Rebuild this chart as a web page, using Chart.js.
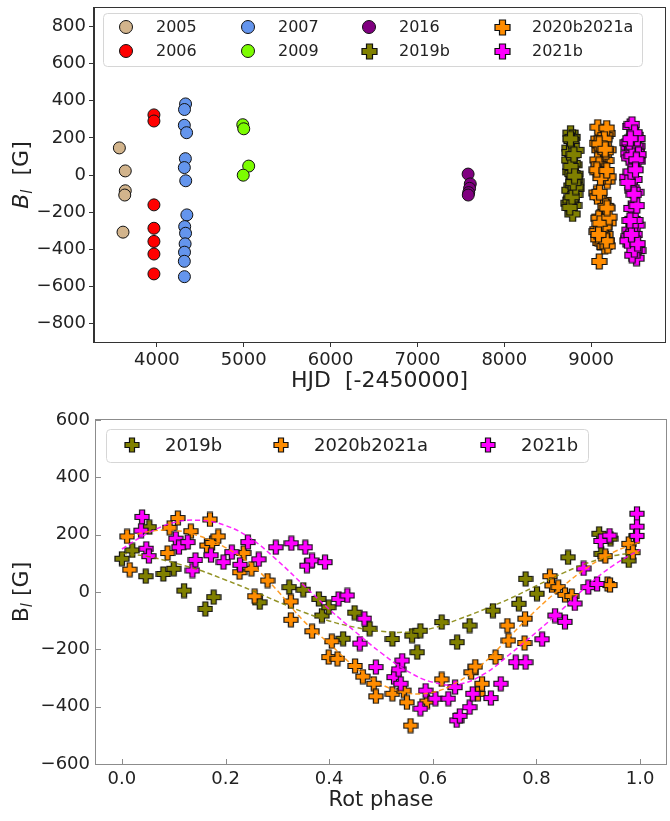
<!DOCTYPE html>
<html lang="en">
<head>
  <meta charset="UTF-8">
  <title>Longitudinal field vs HJD and rotation phase</title>
  <script src="https://cdn.jsdelivr.net/npm/chart.js@4.4.1/dist/chart.umd.min.js"></script>
  <style>
    html, body { margin: 0; padding: 0; background: #fff; overflow: hidden; width: 670px; height: 821px; }
    #topChart { position: absolute; left: 0; top: 0; }
    #botChart { position: absolute; left: 0; top: 400px; }
  </style>
</head>
<body>
  <canvas id="topChart" width="673" height="400"></canvas>
  <canvas id="botChart" width="674" height="421"></canvas>
  <script>
    // ---- data: top panel (HJD - 2450000, B_l in G) ----
    const hjd2005 = [3568, 3636, 3636, 3630, 3610];
    const b2005 = [146, 22, -85, -108, -308];
    const hjd2006 = [3966, 3966, 3966, 3966, 3966, 3966, 3966];
    const b2006 = [324, 291, -161, -287, -358, -426, -533];
    const hjd2007 = [4330, 4318, 4316, 4342, 4328, 4316, 4332, 4345, 4320, 4330, 4325, 4318, 4316, 4317];
    const b2007 = [383, 353, 268, 228, 88, 40, -31, -215, -278, -314, -371, -416, -465, -548];
    const hjd2009 = [4989, 5000, 5057, 4994];
    const b2009 = [271, 249, 48, -1];
    const hjd2016 = [7583, 7608, 7600, 7590, 7585];
    const b2016 = [5, -48, -72, -95, -108];

    // 2019b
    const hjd2019b = [8781, 8752, 8806, 8763, 8790, 8745, 8818, 8771, 8799, 8826,
      8757, 8784, 8812, 8748, 8795, 8768, 8830, 8776, 8803, 8741,
      8760, 8787, 8815, 8754, 8779, 8822, 8793, 8765, 8809, 8750,
      8786, 8828, 8773, 8801, 8762];
    const phase2019b = [0.000, 0.020, 0.046, 0.053, 0.080, 0.100, 0.120, 0.161, 0.177, 0.266,
      0.323, 0.350, 0.380, 0.386, 0.399, 0.427, 0.449, 0.478, 0.522, 0.560,
      0.576, 0.570, 0.617, 0.647, 0.671, 0.716, 0.766, 0.779, 0.801, 0.861,
      0.921, 0.925, 0.943, 0.978, 0.992];
    const b2019b = [116, 145, 55, 226, 63, 81, 5, -59, -18, -36,
      17, 8, -24, -82, -53, -163, -72, -128, -164, -152,
      -135, -210, -105, -175, -117, -65, -41, 46, -6, 121,
      203, 133, 186, 110, 195];

    // 2020b2021a
    const hjd2020 = [9082, 9171, 9095, 9188, 9076, 9160, 9103, 9179, 9068, 9152,
      9091, 9197, 9074, 9168, 9110, 9185, 9063, 9143, 9099, 9176,
      9087, 9201, 9070, 9163, 9105, 9181, 9079, 9157, 9093, 9192,
      9066, 9149, 9101, 9174, 9084, 9206, 9072, 9166, 9097, 9183,
      9089, 9158, 9077, 9195, 9108, 9170, 9065, 9180, 9092, 9162];
    const phase2020 = [0.010, 0.015, 0.088, 0.092, 0.108, 0.133, 0.164, 0.170, 0.174, 0.186,
      0.227, 0.235, 0.250, 0.256, 0.281, 0.326, 0.326, 0.367, 0.399, 0.405,
      0.416, 0.450, 0.465, 0.486, 0.490, 0.522, 0.544, 0.550, 0.557, 0.589,
      0.617, 0.674, 0.682, 0.687, 0.695, 0.721, 0.744, 0.746, 0.778, 0.777,
      0.826, 0.830, 0.842, 0.855, 0.868, 0.933, 0.937, 0.942, 0.978, 0.986];
    const b2020 = [194, 78, 136, 224, 258, 212, 162, 253, 171, 194,
      69, 136, 81, -15, 40, -33, -97, -137, -227, -172,
      -233, -258, -295, -320, -364, -355, -344, -385, -466, -382,
      -305, -280, -260, -355, -320, -227, -117, -169, -93, -178,
      55, 23, 17, -10, -14, 125, 28, 24, 168, 139];

    // 2021b
    const hjd2021b = [9448, 9512, 9431, 9527, 9466, 9493, 9419, 9538, 9457, 9504,
      9440, 9521, 9475, 9487, 9425, 9532, 9452, 9509, 9436, 9544,
      9469, 9498, 9414, 9517, 9461, 9490, 9444, 9529, 9478, 9502,
      9428, 9540, 9455, 9514, 9434, 9523, 9472, 9496, 9417, 9535,
      9463, 9507, 9446, 9526, 9481, 9492, 9422, 9519, 9458, 9511,
      9438, 9531, 9470, 9500, 9451];
    const phase2021b = [0.039, 0.037, 0.047, 0.052, 0.104, 0.110, 0.127, 0.136, 0.142, 0.172,
      0.196, 0.212, 0.228, 0.243, 0.264, 0.297, 0.327, 0.354, 0.357, 0.367,
      0.392, 0.418, 0.435, 0.468, 0.459, 0.490, 0.525, 0.534, 0.541, 0.538,
      0.586, 0.576, 0.605, 0.630, 0.643, 0.646, 0.652, 0.671, 0.677, 0.712,
      0.731, 0.760, 0.779, 0.811, 0.836, 0.855, 0.874, 0.891, 0.900, 0.917,
      0.924, 0.941, 0.994, 0.994, 0.994];
    const b2021b = [262, 214, 151, 125, 186, 156, 174, 75, 112, 128,
      104, 139, 95, 174, 114, 156, 170, 156, 92, 110,
      104, -24, -12, -93, -180, -262, -297, -270, -239, -320,
      -344, -407, -372, -372, -332, -448, -432, -402, -355, -370,
      -320, -245, -245, -165, -82, -104, -40, 82, 17, 28,
      178, 197, 273, 228, 196];

    // fitted curves (phase plot)
    const fitPhase = [0, 0.05, 0.1, 0.15, 0.2, 0.25, 0.3, 0.35, 0.4, 0.45, 0.5,
      0.55, 0.6, 0.65, 0.7, 0.75, 0.8, 0.85, 0.9, 0.95, 1.0];
    const fit2019b = [135, 124, 102, 76, 42, 6, -33, -70, -101, -123, -137,
      -140, -126, -95, -60, -22, 22, 65, 102, 127, 138];
    const fit2020 = [185, 210, 215, 195, 155, 95, 5, -100, -180, -262, -322,
      -352, -350, -312, -245, -152, -62, 18, 88, 140, 175];
    const fit2021b = [150, 205, 242, 250, 232, 185, 110, 25, -60, -138, -212,
      -275, -315, -322, -285, -215, -140, -60, 25, 95, 148];

    // ticks
    const topXTicks = [4000, 5000, 6000, 7000, 8000, 9000];
    const topYTicks = [-800, -600, -400, -200, 0, 200, 400, 600, 800];
    const botXTicks = [0, 0.2, 0.4, 0.6, 0.8, 1.0];
    const botYTicks = [-600, -400, -200, 0, 200, 400, 600];

    const FONT = 'DejaVu Sans';
    Chart.defaults.font.family = FONT;
    Chart.defaults.color = '#222';

    // filled plus marker with dark edge (like matplotlib 'P')
    function plusMarker(fill, size) {
      const c = document.createElement('canvas');
      c.width = c.height = size + 2;
      const g = c.getContext('2d');
      const w = Math.round(size * 0.38), a = (size - w) / 2, o = 1;
      g.beginPath();
      g.moveTo(o + a, o); g.lineTo(o + a + w, o); g.lineTo(o + a + w, o + a);
      g.lineTo(o + size, o + a); g.lineTo(o + size, o + a + w); g.lineTo(o + a + w, o + a + w);
      g.lineTo(o + a + w, o + size); g.lineTo(o + a, o + size); g.lineTo(o + a, o + a + w);
      g.lineTo(o, o + a + w); g.lineTo(o, o + a); g.lineTo(o + a, o + a);
      g.closePath();
      g.fillStyle = fill;
      g.fill();
      g.lineWidth = 1.2;
      g.strokeStyle = '#111';
      g.stroke();
      return c;
    }

    const pts = (xs, ys) => xs.map((x, i) => ({ x: x, y: ys[i] }));
    const minus = v => (v < 0 ? '\u2212' + Math.abs(v) : String(v));

    // frame, inward ticks, axis titles
    const decor = {
      id: 'decor',
      afterDatasetsDraw(chart, args, o) {
        const { ctx, chartArea: a } = chart;
        ctx.save();
        ctx.strokeStyle = o.frame;
        ctx.lineWidth = 1;
        ctx.strokeRect(a.left - 0.5, a.top - 0.5, a.right - a.left + 1, a.bottom - a.top + 1);
        if (o.inTicks) {
          const xs = chart.scales.x, ys = chart.scales.y;
          ctx.beginPath();
          xs.ticks.forEach(t => {
            const p = Math.round(xs.getPixelForValue(t.value)) + 0.5;
            ctx.moveTo(p, a.bottom); ctx.lineTo(p, a.bottom - o.inTicks);
          });
          ys.ticks.forEach(t => {
            const p = Math.round(ys.getPixelForValue(t.value)) + 0.5;
            ctx.moveTo(a.left, p); ctx.lineTo(a.left + o.inTicks, p);
          });
          ctx.stroke();
        }
        ctx.fillStyle = '#222';
        // x title
        ctx.font = o.xFont;
        ctx.textAlign = 'center';
        ctx.textBaseline = 'middle';
        ctx.fillText(o.xTitle, (a.left + a.right) / 2, o.xTitleY);
        // y title, with subscript l
        const parts = o.yParts;
        let total = 0;
        parts.forEach(p => { ctx.font = p.font; total += ctx.measureText(p.t).width; });
        ctx.translate(o.yTitleX, (a.top + a.bottom) / 2);
        ctx.rotate(-Math.PI / 2);
        ctx.textAlign = 'left';
        let x = -total / 2;
        parts.forEach(p => {
          ctx.font = p.font;
          ctx.fillText(p.t, x, p.dy || 0);
          x += ctx.measureText(p.t).width;
        });
        ctx.restore();
      },
      afterDraw(chart, args, o) {
        // legend in matplotlib style: boxed, column-major
        const L = o.legend;
        const ctx = chart.ctx;
        ctx.save();
        const [bx, by, bw, bh] = L.box;
        ctx.beginPath();
        ctx.roundRect(bx + 0.5, by + 0.5, bw, bh, 4);
        ctx.fillStyle = 'rgba(255,255,255,0.85)';
        ctx.fill();
        ctx.strokeStyle = '#d6d6d6';
        ctx.lineWidth = 1;
        ctx.stroke();
        ctx.font = L.font;
        ctx.textBaseline = 'middle';
        ctx.textAlign = 'left';
        L.items.forEach(it => {
          if (it.img) {
            ctx.drawImage(it.img, Math.round(it.x - it.img.width / 2), Math.round(it.y - it.img.height / 2));
          } else {
            ctx.beginPath();
            ctx.arc(it.x, it.y, 6.5, 0, Math.PI * 2);
            ctx.fillStyle = it.color;
            ctx.fill();
            ctx.strokeStyle = '#111';
            ctx.stroke();
          }
          ctx.fillStyle = '#222';
          ctx.fillText(it.label, it.x + L.gap, it.y + 1);
        });
        ctx.restore();
      }
    };

    function fixedY(width) {
      return s => { s.width = width; s.paddingTop = 0; s.paddingBottom = 0; };
    }
    function fixedX(height) {
      return s => { s.height = height; s.paddingLeft = 0; s.paddingRight = 0; };
    }
    function setTicks(arr) {
      return s => { s.ticks = arr.map(v => ({ value: v })); };
    }

    // ---------- top panel ----------
    const plusTop = {
      olive: plusMarker('#808000', 15),
      orange: plusMarker('#ff8c00', 15),
      magenta: plusMarker('#ff00ff', 15)
    };
    const circle = (label, xs, ys, color, order) => ({
      label, data: pts(xs, ys), backgroundColor: color, borderColor: '#111',
      borderWidth: 1, pointRadius: 6, pointStyle: 'circle', order
    });
    const plus = (label, xs, ys, img, order) => ({
      label, data: pts(xs, ys), pointStyle: img, pointRadius: 7, order
    });

    new Chart(document.getElementById('topChart'), {
      type: 'scatter',
      data: {
        datasets: [
          circle('2005', hjd2005, b2005, '#d2b48c', 20),
          circle('2006', hjd2006, b2006, '#ff0000', 19),
          circle('2007', hjd2007, b2007, '#6495ed', 18),
          circle('2009', hjd2009, b2009, '#7cfc00', 17),
          circle('2016', hjd2016, b2016, '#800080', 16),
          plus('2019b', hjd2019b, b2019b, plusTop.olive, 15),
          plus('2020b2021a', hjd2020, b2020, plusTop.orange, 14),
          plus('2021b', hjd2021b, b2021b, plusTop.magenta, 13)
        ]
      },
      options: {
        responsive: false,
        animation: false,
        devicePixelRatio: 1,
        events: [],
        layout: { padding: { top: 5, left: 0, right: 0, bottom: 0 } },
        plugins: {
          legend: { display: false },
          tooltip: { enabled: false },
          decor: {
            frame: '#333',
            xTitle: 'HJD  [-2450000]',
            xFont: '22px ' + FONT,
            xTitleY: 381,
            yTitleX: 22,
            yParts: [
              { t: 'B', font: 'italic 22px ' + FONT },
              { t: 'l', font: 'italic 15px ' + FONT, dy: 6 },
              { t: '  [G]', font: '22px ' + FONT }
            ],
            legend: {
              box: [103, 13, 539, 53],
              font: '16px ' + FONT,
              gap: 30,
              items: [
                { label: '2005', color: '#d2b48c', x: 126, y: 27 },
                { label: '2006', color: '#ff0000', x: 126, y: 51 },
                { label: '2007', color: '#6495ed', x: 248, y: 27 },
                { label: '2009', color: '#7cfc00', x: 248, y: 51 },
                { label: '2016', color: '#800080', x: 369, y: 27 },
                { label: '2019b', img: plusTop.olive, x: 369, y: 51 },
                { label: '2020b2021a', img: plusTop.orange, x: 502, y: 27 },
                { label: '2021b', img: plusTop.magenta, x: 502, y: 51 }
              ]
            }
          }
        },
        scales: {
          x: {
            type: 'linear', min: 3276, max: 9850,
            afterBuildTicks: setTicks(topXTicks),
            afterFit: fixedX(58),
            grid: { drawOnChartArea: false, drawTicks: true, tickLength: 5, color: '#333' },
            border: { display: true, color: '#333' },
            ticks: { font: { size: 18 }, padding: 3, maxRotation: 0, callback: v => String(v) }
          },
          y: {
            type: 'linear', min: -900, max: 900,
            afterBuildTicks: setTicks(topYTicks),
            afterFit: fixedY(94),
            grid: { drawOnChartArea: false, drawTicks: true, tickLength: 5, color: '#333' },
            border: { display: true, color: '#333' },
            ticks: { font: { size: 18 }, padding: 3, callback: minus }
          }
        }
      },
      plugins: [decor]
    });

    // ---------- bottom panel ----------
    const plusBot = {
      olive: plusMarker('#808000', 14),
      orange: plusMarker('#ff8c00', 14),
      magenta: plusMarker('#ff00ff', 14)
    };
    const fitLine = (xs, ys, color, order) => ({
      type: 'line', data: pts(xs, ys), borderColor: color, borderWidth: 1.5,
      borderDash: [5, 3], pointRadius: 0, showLine: true, fill: false, tension: 0.4, order
    });

    new Chart(document.getElementById('botChart'), {
      type: 'scatter',
      data: {
        datasets: [
          plus('2019b', phase2019b, b2019b, plusBot.olive, 12),
          plus('2020b2021a', phase2020, b2020, plusBot.orange, 11),
          plus('2021b', phase2021b, b2021b, plusBot.magenta, 10),
          fitLine(fitPhase, fit2019b, 'rgba(128,128,0,0.85)', 2),
          fitLine(fitPhase, fit2020, 'rgba(255,140,0,0.85)', 1),
          fitLine(fitPhase, fit2021b, 'rgba(255,0,255,0.85)', 0)
        ]
      },
      options: {
        responsive: false,
        animation: false,
        devicePixelRatio: 1,
        events: [],
        layout: { padding: { top: 20, left: 0, right: 0, bottom: 0 } },
        plugins: {
          legend: { display: false },
          tooltip: { enabled: false },
          decor: {
            frame: '#8c8c8c',
            inTicks: 5,
            xTitle: 'Rot phase',
            xFont: '21px ' + FONT,
            xTitleY: 401,
            yTitleX: 22,
            yParts: [
              { t: 'B', font: '22px ' + FONT },
              { t: 'l', font: 'italic 15px ' + FONT, dy: 6 },
              { t: ' [G]', font: '22px ' + FONT }
            ],
            legend: {
              box: [106, 29, 482, 33],
              font: '18px ' + FONT,
              gap: 33,
              items: [
                { label: '2019b', img: plusBot.olive, x: 132, y: 45 },
                { label: '2020b2021a', img: plusBot.orange, x: 281, y: 45 },
                { label: '2021b', img: plusBot.magenta, x: 488, y: 45 }
              ]
            }
          }
        },
        scales: {
          x: {
            type: 'linear', min: -0.05, max: 1.05,
            afterBuildTicks: setTicks(botXTicks),
            afterFit: fixedX(57),
            grid: { display: false, drawTicks: false },
            border: { display: false },
            ticks: { font: { size: 18 }, padding: 5, maxRotation: 0, callback: v => v.toFixed(1) }
          },
          y: {
            type: 'linear', min: -600, max: 600,
            afterBuildTicks: setTicks(botYTicks),
            afterFit: fixedY(96),
            grid: { display: false, drawTicks: false },
            border: { display: false },
            ticks: { font: { size: 18 }, padding: 6, callback: minus }
          }
        }
      },
      plugins: [decor]
    });
  </script>
</body>
</html>
